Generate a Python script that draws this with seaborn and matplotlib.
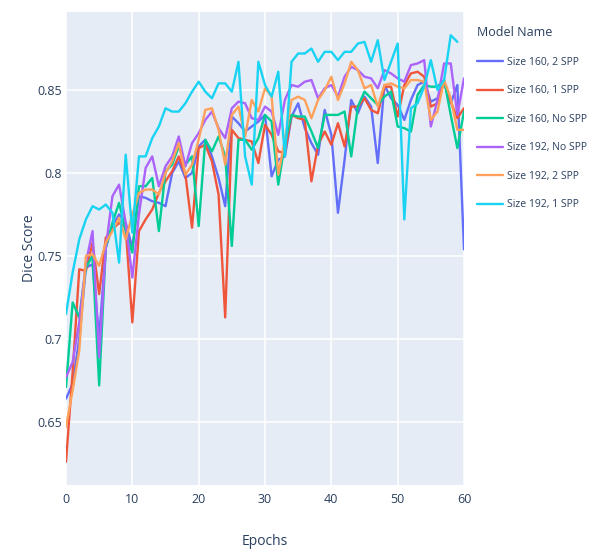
import pandas as pd
import matplotlib
matplotlib.use("Agg")
import matplotlib.pyplot as plt
import seaborn as sns
from matplotlib.ticker import FuncFormatter

# Dice score per epoch
size160_2spp = [0.664, 0.673, 0.700, 0.743, 0.745, 0.701, 0.755, 0.768, 0.775, 0.770,
                0.755, 0.786, 0.785, 0.783, 0.782, 0.780, 0.800, 0.807, 0.797, 0.800,
                0.816, 0.820, 0.810, 0.797, 0.780, 0.834, 0.830, 0.825, 0.828, 0.831,
                0.835, 0.798, 0.808, 0.810, 0.834, 0.842, 0.827, 0.818, 0.811, 0.838,
                0.823, 0.776, 0.808, 0.844, 0.836, 0.846, 0.840, 0.806, 0.853, 0.845,
                0.841, 0.832, 0.844, 0.853, 0.855, 0.843, 0.845, 0.855, 0.842, 0.853,
                0.754]
size160_1spp = [0.626, 0.680, 0.742, 0.741, 0.758, 0.727, 0.761, 0.766, 0.770, 0.767,
                0.710, 0.765, 0.772, 0.778, 0.788, 0.795, 0.801, 0.810, 0.799, 0.767,
                0.815, 0.817, 0.807, 0.787, 0.713, 0.826, 0.821, 0.820, 0.819, 0.806,
                0.829, 0.823, 0.813, 0.812, 0.835, 0.833, 0.832, 0.795, 0.817, 0.825,
                0.817, 0.830, 0.816, 0.840, 0.840, 0.845, 0.838, 0.836, 0.852, 0.852,
                0.834, 0.853, 0.860, 0.861, 0.858, 0.840, 0.842, 0.855, 0.843, 0.833,
                0.839]
size160_nospp = [0.671, 0.722, 0.713, 0.743, 0.750, 0.672, 0.755, 0.770, 0.782, 0.765,
                 0.752, 0.792, 0.792, 0.797, 0.765, 0.801, 0.805, 0.816, 0.805, 0.810,
                 0.768, 0.820, 0.813, 0.822, 0.810, 0.756, 0.820, 0.820, 0.814, 0.821,
                 0.835, 0.831, 0.793, 0.818, 0.835, 0.834, 0.834, 0.825, 0.815, 0.835,
                 0.835, 0.835, 0.837, 0.810, 0.840, 0.849, 0.845, 0.841, 0.846, 0.849,
                 0.828, 0.827, 0.825, 0.847, 0.853, 0.852, 0.852, 0.856, 0.835, 0.815,
                 0.837]
size192_nospp = [0.677, 0.686, 0.710, 0.746, 0.765, 0.689, 0.755, 0.786, 0.793, 0.770,
                 0.737, 0.775, 0.803, 0.810, 0.792, 0.804, 0.810, 0.822, 0.804, 0.818,
                 0.824, 0.832, 0.837, 0.827, 0.821, 0.839, 0.843, 0.842, 0.833, 0.832,
                 0.840, 0.837, 0.823, 0.844, 0.853, 0.852, 0.855, 0.856, 0.845, 0.851,
                 0.853, 0.846, 0.858, 0.864, 0.862, 0.858, 0.857, 0.851, 0.862, 0.860,
                 0.857, 0.855, 0.865, 0.866, 0.868, 0.828, 0.844, 0.866, 0.866, 0.835,
                 0.857]
size192_2spp = [0.647, 0.669, 0.693, 0.750, 0.751, 0.744, 0.758, 0.765, 0.773, 0.760,
                0.775, 0.788, 0.790, 0.790, 0.787, 0.800, 0.807, 0.818, 0.799, 0.805,
                0.820, 0.838, 0.839, 0.826, 0.805, 0.835, 0.840, 0.822, 0.844, 0.837,
                0.851, 0.846, 0.799, 0.820, 0.844, 0.846, 0.844, 0.833, 0.844, 0.850,
                0.858, 0.844, 0.854, 0.867, 0.862, 0.851, 0.853, 0.840, 0.853, 0.854,
                0.852, 0.851, 0.856, 0.856, 0.855, 0.832, 0.837, 0.856, 0.845, 0.826,
                0.826]
size192_1spp = [0.715, 0.740, 0.760, 0.772, 0.780, 0.778, 0.781, 0.776, 0.746, 0.811,
                0.764, 0.810, 0.810, 0.821, 0.828, 0.839, 0.837, 0.837, 0.842, 0.849,
                0.855, 0.849, 0.845, 0.854, 0.854, 0.849, 0.867, 0.810, 0.793, 0.867,
                0.853, 0.846, 0.861, 0.810, 0.867, 0.872, 0.872, 0.875, 0.867, 0.873,
                0.873, 0.868, 0.873, 0.873, 0.878, 0.879, 0.867, 0.880, 0.856, 0.867,
                0.878, 0.772, 0.839, 0.842, 0.852, 0.868, 0.850, 0.856, 0.883, 0.879]

model_names = ["Size 160, 2 SPP", "Size 160, 1 SPP", "Size 160, No SPP",
               "Size 192, No SPP", "Size 192, 2 SPP", "Size 192, 1 SPP"]
series = [size160_2spp, size160_1spp, size160_nospp,
          size192_nospp, size192_2spp, size192_1spp]
colors = ["#636EFA", "#EF553B", "#00CC96", "#AB63FA", "#FFA15A", "#19D3F3"]

# tabela longa para o seaborn
rows = []
for name, vals in zip(model_names, series):
    for ep, v in enumerate(vals):
        rows.append({"Epochs": ep, "Dice Score": v, "Model Name": name})
df = pd.DataFrame(rows)

sns.set_theme(style="darkgrid")
plt.rcParams["font.family"] = ["Open Sans", "DejaVu Sans"]
text_color = "#2a3f5f"

fig = plt.figure(figsize=(5.91, 5.52), dpi=100)
fig.patch.set_facecolor("white")
ax = fig.add_axes([66 / 591, 67 / 552, 398 / 591, 473 / 552])
ax.set_facecolor("#E5ECF6")

sns.lineplot(data=df, x="Epochs", y="Dice Score", hue="Model Name",
             hue_order=model_names, palette=colors, linewidth=1.7,
             errorbar=None, ax=ax)

ax.set_xlim(0, 60)
ax.set_ylim(0.612, 0.897)
ax.set_xticks(range(0, 61, 10))
ax.set_yticks([0.65, 0.7, 0.75, 0.8, 0.85])
ax.yaxis.set_major_formatter(FuncFormatter(lambda v, p: f"{v:g}"))
ax.grid(True, color="white", linewidth=1.1)
ax.set_axisbelow(True)
for s in ax.spines.values():
    s.set_visible(False)
ax.tick_params(length=0, labelsize=9, colors=text_color)
ax.tick_params(axis="x", pad=6)
ax.tick_params(axis="y", pad=3)
ax.set_xlabel("Epochs", fontsize=10, color=text_color, labelpad=20)
ax.set_ylabel("Dice Score", fontsize=10, color=text_color, labelpad=0)

leg = ax.legend(title="Model Name", loc="upper left",
                bbox_to_anchor=(468 / 591, 1 - 17 / 552),
                bbox_transform=fig.transFigure, frameon=False,
                fontsize=7.5, title_fontsize=9, handlelength=2.5,
                handletextpad=0.3, labelspacing=1.68, alignment="left")
for t in leg.get_texts():
    t.set_color(text_color)
leg.get_title().set_color(text_color)

fig.savefig("out.png", dpi=100)
